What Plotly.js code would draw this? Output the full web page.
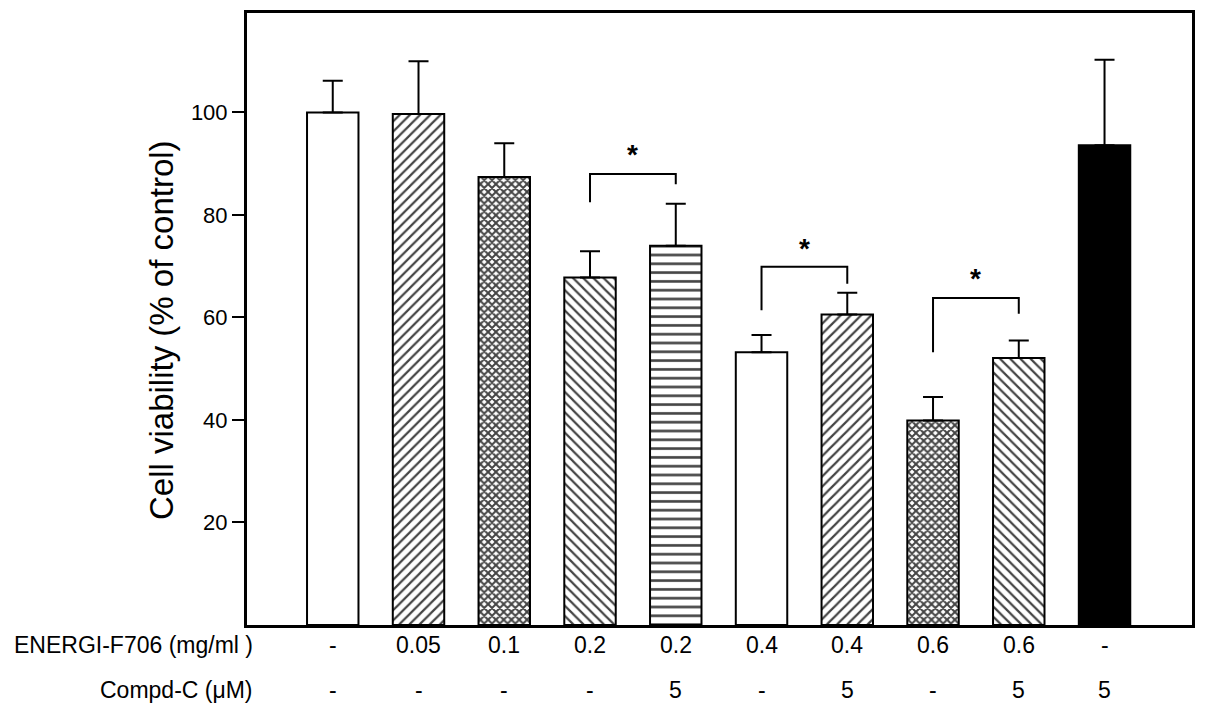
<!DOCTYPE html>
<html>
<head>
<meta charset="utf-8">
<script src="https://cdn.plot.ly/plotly-3.0.1.min.js"></script>
<style>html,body{margin:0;padding:0;background:#fff;}#chart{width:1205px;height:717px;}</style>
</head>
<body>
<div id="chart"></div>
<script>
// ---- data ----
var groups = [0, 1, 2, 3, 4, 5, 6, 7, 8, 9];
var viability = [100, 99.7, 87.4, 67.8, 74.0, 53.2, 60.6, 39.9, 52.1, 93.6];
var errUpper = [6.2, 10.3, 6.6, 5.1, 8.2, 3.4, 4.2, 4.6, 3.4, 16.7];
var energiRow = ['-', '0.05', '0.1', '0.2', '0.2', '0.4', '0.4', '0.6', '0.6', '-'];
var compdRow = ['-', '-', '-', '-', '5', '-', '5', '-', '5', '5'];
var rowLabels = ['ENERGI-F706 (mg/ml )', 'Compd-C (\u03bcM)'];
var yTitle = 'Cell viability (% of control)';
var yTicks = [20, 40, 60, 80, 100];
// significance brackets: [left group, right group]
var sigPairs = [[3, 4], [5, 6], [7, 8]];
var sigTop = [88.0, 69.9, 63.8];
var sigLeftEnd = [82.5, 61.4, 53.2];
var sigRightEnd = [86.0, 66.6, 60.7];
var sigStar = [91.8, 73.4, 67.6];

// ---- styles ----
var patternShapes = ['', '/', 'x', '\\', '-', '', '/', 'x', '\\', ''];
var patternSizes = [8, 7.2, 5.5, 7.2, 8.8, 8, 7.2, 5.5, 7.2, 8];
var patternSolidity = [0.3, 0.3, 0.6, 0.3, 0.3, 0.3, 0.3, 0.6, 0.3, 0.3];
var fillColors = groups.map(function (g, i) { return i === groups.length - 1 ? '#000000' : '#ffffff'; });
var FONT = 'Liberation Sans, Arial, Helvetica, sans-serif';

var trace = {
  type: 'bar',
  x: groups,
  y: viability,
  width: 0.6,
  marker: {
    color: fillColors,
    line: {color: '#000000', width: 2},
    pattern: {
      shape: patternShapes,
      size: patternSizes,
      solidity: patternSolidity,
      fgcolor: '#000000',
      fgopacity: 1,
      fillmode: 'overlay'
    }
  },
  error_y: {
    type: 'data',
    symmetric: false,
    array: errUpper,
    arrayminus: groups.map(function () { return 0; }),
    color: '#000000',
    thickness: 2,
    width: 10
  },
  hoverinfo: 'x+y'
};

var shapes = [];
var annotations = [];
sigPairs.forEach(function (p, i) {
  shapes.push({
    type: 'path', xref: 'x', yref: 'y',
    path: 'M' + p[0] + ',' + sigLeftEnd[i] + ' L' + p[0] + ',' + sigTop[i] +
          ' L' + p[1] + ',' + sigTop[i] + ' L' + p[1] + ',' + sigRightEnd[i],
    line: {color: '#000000', width: 2}
  });
  annotations.push({
    xref: 'x', yref: 'y', x: (p[0] + p[1]) / 2, y: sigStar[i],
    text: '<b>*</b>', showarrow: false, yanchor: 'middle', xanchor: 'center',
    font: {family: FONT, size: 28, color: '#000000'}
  });
});

var rowY = [-0.0327, -0.106];
[energiRow, compdRow].forEach(function (row, r) {
  row.forEach(function (t, i) {
    annotations.push({
      xref: 'x', yref: 'paper', x: groups[i], y: rowY[r],
      text: t, showarrow: false, xanchor: 'center', yanchor: 'middle',
      font: {family: FONT, size: 23, color: '#000000'}
    });
  });
  annotations.push({
    xref: 'paper', yref: 'paper', x: 0.0085, y: rowY[r],
    text: rowLabels[r], showarrow: false, xanchor: 'right', yanchor: 'middle',
    font: {family: FONT, size: 23, color: '#000000'}
  });
});

// y-axis title placed as rotated annotation
annotations.push({
  xref: 'paper', yref: 'paper', x: -0.091, y: 0.482,
  text: yTitle, textangle: -90, showarrow: false,
  xanchor: 'center', yanchor: 'middle',
  font: {family: FONT, size: 33, color: '#000000'}
});

var layout = {
  width: 1205, height: 717,
  margin: {l: 247, r: 13, t: 13, b: 92},
  paper_bgcolor: '#ffffff', plot_bgcolor: '#ffffff',
  showlegend: false,
  bargap: 0.4,
  xaxis: {
    range: [-1, 10.02],
    showticklabels: false, ticks: '', showgrid: false, zeroline: false,
    showline: true, mirror: true, linecolor: '#000000', linewidth: 3,
    fixedrange: true
  },
  yaxis: {
    range: [0, 119.4],
    tickvals: yTicks,
    ticktext: yTicks.map(String),
    ticks: 'outside', ticklen: 12, tickwidth: 2, tickcolor: '#000000',
    tickfont: {family: FONT, size: 22, color: '#000000'},
    showgrid: false, zeroline: false,
    showline: true, mirror: true, linecolor: '#000000', linewidth: 3,
    fixedrange: true
  },
  shapes: shapes,
  annotations: annotations
};

Plotly.newPlot('chart', [trace], layout, {displayModeBar: false, staticPlot: true});
</script>
</body>
</html>
